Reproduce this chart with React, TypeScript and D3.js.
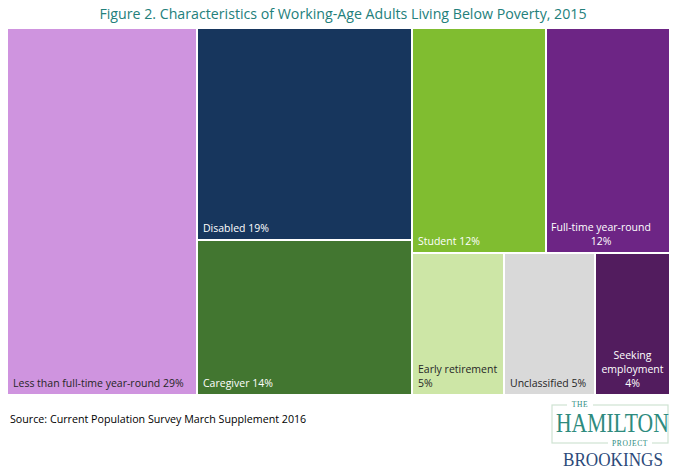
import React, { useMemo } from 'react';
import * as d3 from 'd3';

// data (tile areas; labels show the rounded shares)
const categories = [
  'Less than full-time year-round',
  'Disabled',
  'Caregiver',
  'Student',
  'Full-time year-round',
  'Early retirement',
  'Unclassified',
  'Seeking employment',
];
const shares = [28.7, 18.7, 13.7, 12.4, 11.4, 5.4, 5.3, 4.4];
const labelLines = [
  ['Less than full-time year-round 29%'],
  ['Disabled 19%'],
  ['Caregiver 14%'],
  ['Student 12%'],
  ['Full-time year-round', '12%'],
  ['Early retirement', '5%'],
  ['Unclassified 5%'],
  ['Seeking', 'employment', '4%'],
];
const tileColors = [
  '#cf94df',
  '#17365d',
  '#427630',
  '#80bd30',
  '#6d2585',
  '#cde6a6',
  '#d9d9d9',
  '#521c5e',
];

const TITLE = 'Figure 2. Characteristics of Working-Age Adults Living Below Poverty, 2015';
const SOURCE = 'Source: Current Population Survey March Supplement 2016';

const W = 679;
const H = 472;
const margin = { top: 29, right: 10, bottom: 78, left: 8 };
const FONT = "'Open Sans', 'Noto Sans', sans-serif";
const SERIF = "'Liberation Serif', 'DejaVu Serif', serif";

type Leaf = d3.HierarchyRectangularNode<any>;

export default function App() {
  const innerW = W - margin.left - margin.right;
  const innerH = H - margin.top - margin.bottom;

  const leaves: Leaf[] = useMemo(() => {
    const rows = categories.map((name, i) => ({
      name,
      value: shares[i],
      lines: labelLines[i],
      color: tileColors[i],
    }));
    const root = d3
      .hierarchy<any>({ children: rows })
      .sum((d) => d.value || 0);
    d3
      .treemap<any>()
      .size([innerW, innerH])
      .tile(d3.treemapSquarify.ratio(1))
      .paddingInner(2)
      .round(true)(root);
    return (root as Leaf).leaves();
  }, [innerW, innerH]);

  const isLight = (c: string) => d3.hsl(c).l > 0.7;

  return (
    <svg width={W} height={H} style={{ position: 'absolute', left: 0, top: 0, background: '#fff' }}>
      <text
        x={343}
        y={19}
        textAnchor="middle"
        fill="#23807b"
        style={{ fontFamily: FONT, fontSize: 14.2 }}
      >
        {TITLE}
      </text>

      <g transform={`translate(${margin.left},${margin.top})`}>
        {leaves.map((d) => {
          const w = d.x1 - d.x0;
          const centered = d.data.lines.length > 1 && d.data.name !== 'Early retirement';
          // the full-time label sits in a text box hugging the left edge
          const tx = centered
            ? d.data.name === 'Full-time year-round'
              ? d.x0 + 54
              : d.x0 + w / 2
            : d.x0 + 5;
          const n = d.data.lines.length;
          return (
            <g key={d.data.name}>
              <rect
                x={d.x0}
                y={d.y0}
                width={w}
                height={d.y1 - d.y0}
                fill={d.data.color}
              />
              <text
                fill={isLight(d.data.color) ? '#262626' : '#ffffff'}
                textAnchor={centered ? 'middle' : 'start'}
                style={{ fontFamily: FONT, fontSize: 10.5 }}
              >
                {d.data.lines.map((line: string, j: number) => (
                  <tspan key={j} x={tx} y={d.y1 - 7 - (n - 1 - j) * 14}>
                    {line}
                  </tspan>
                ))}
              </text>
            </g>
          );
        })}
      </g>

      <text x={10} y={423} fill="#000" style={{ fontFamily: FONT, fontSize: 10.7 }}>
        {SOURCE}
      </text>

      {/* Hamilton Project / Brookings mark */}
      <g style={{ fontFamily: SERIF }}>
        <rect x={552} y={405} width={116} height={38} fill="none" stroke="#cfe3d3" strokeWidth={1.2} />
        <rect x={567} y={400} width={26} height={9} fill="#fff" />
        <text x={580} y={407} textAnchor="middle" fill="#2e8b7e" style={{ fontSize: 7.5, letterSpacing: 0.6 }}>
          THE
        </text>
        <g transform="translate(556,432) scale(0.8,1)">
          <text x={0} y={0} fill="#2e8b7e" style={{ fontSize: 27 }}>
            HAMILTON
          </text>
        </g>
        <rect x={608} y={439} width={44} height={9} fill="#fff" />
        <text x={630} y={446} textAnchor="middle" fill="#2e8b7e" style={{ fontSize: 7.5, letterSpacing: 0.6 }}>
          PROJECT
        </text>
        <text
          x={563}
          y={466}
          fill="#2c4a7a"
          textLength={100}
          lengthAdjust="spacingAndGlyphs"
          style={{ fontSize: 19 }}
        >
          BROOKINGS
        </text>
      </g>
    </svg>
  );
}
